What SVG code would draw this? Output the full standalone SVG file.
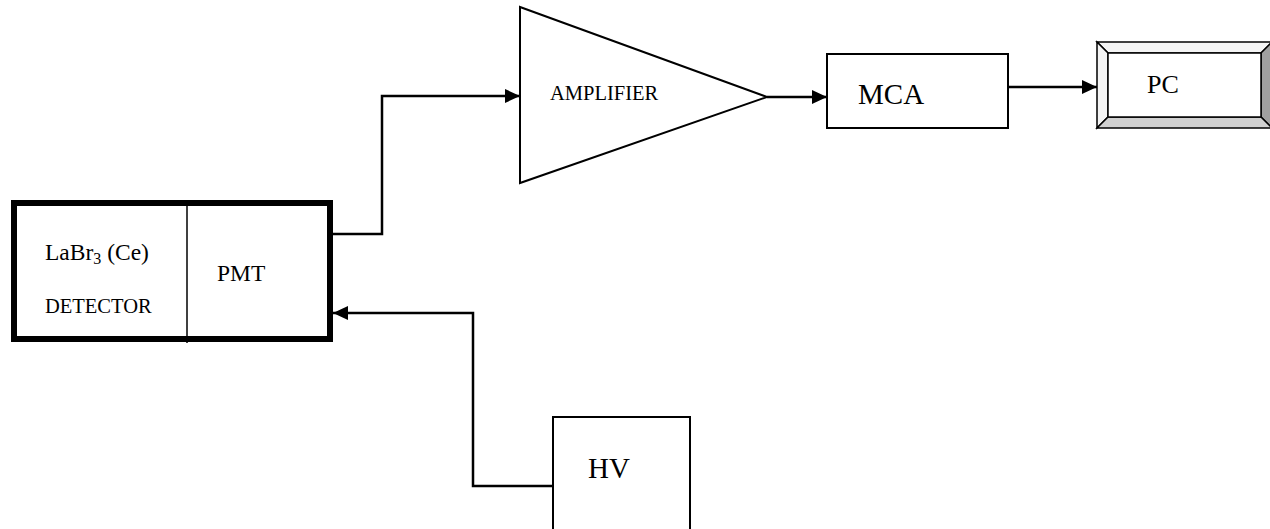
<svg xmlns="http://www.w3.org/2000/svg" width="1270" height="529" viewBox="0 0 1270 529">
<style>
.s{fill:#fff;stroke:#000;stroke-width:2}
.c{fill:none;stroke:#000;stroke-width:2.5}
.t{font-family:"Liberation Serif","Times New Roman",serif;fill:#000}
</style>
<defs>
<marker id="ah" markerUnits="userSpaceOnUse" markerWidth="16" markerHeight="14" refX="15" refY="7" orient="auto">
<path d="M0,0 L15,7 L0,14 Z" fill="#000"/>
</marker>
</defs>
<rect width="1270" height="529" fill="#fff"/>
<g id="detector">
<rect x="14" y="203" width="316" height="136" fill="#fff" stroke="#000" stroke-width="6"/>
<line x1="187" y1="206" x2="187" y2="343" stroke="#000" stroke-width="1.5"/>
<text class="t" x="45" y="260" font-size="23.5">LaBr<tspan font-size="16" dy="4">3</tspan><tspan dy="-4"> (Ce)</tspan></text>
<text class="t" x="45" y="313" font-size="20.5">DETECTOR</text>
<text class="t" x="217" y="281" font-size="23.5">PMT</text>
</g>
<g id="amplifier">
<polygon class="s" points="520,7 520,183 767,97"/>
<text class="t" x="550" y="100" font-size="20.5">AMPLIFIER</text>
</g>
<g id="mca">
<rect class="s" x="827" y="54" width="181" height="74"/>
<text class="t" x="858" y="104" font-size="29">MCA</text>
</g>
<g id="pc">
<polygon points="1097,42 1272,42 1261,53 1108,53" fill="#f4f4f4" stroke="#000" stroke-width="1.5"/>
<polygon points="1097,42 1108,53 1108,117 1097,128" fill="#f4f4f4" stroke="#000" stroke-width="1.5"/>
<polygon points="1272,42 1272,128 1261,117 1261,53" fill="#a0a0a0" stroke="#000" stroke-width="1.5"/>
<polygon points="1097,128 1272,128 1261,117 1108,117" fill="#d0d0d0" stroke="#000" stroke-width="1.5"/>
<rect x="1108" y="53" width="153" height="64" fill="#fff" stroke="#000" stroke-width="1.5"/>
<text class="t" x="1147" y="93" font-size="26">PC</text>
</g>
<g id="hv">
<rect class="s" x="553" y="417" width="137" height="130"/>
<text class="t" x="588" y="478" font-size="29">HV</text>
</g>
<g id="connectors">
<path class="c" d="M333,234 H382 V96 H520" marker-end="url(#ah)"/>
<path class="c" d="M767,97 H827" marker-end="url(#ah)"/>
<path class="c" d="M1008,87 H1097" marker-end="url(#ah)"/>
<path class="c" d="M553,486 H473 V313 H333" marker-end="url(#ah)"/>
</g>
</svg>
